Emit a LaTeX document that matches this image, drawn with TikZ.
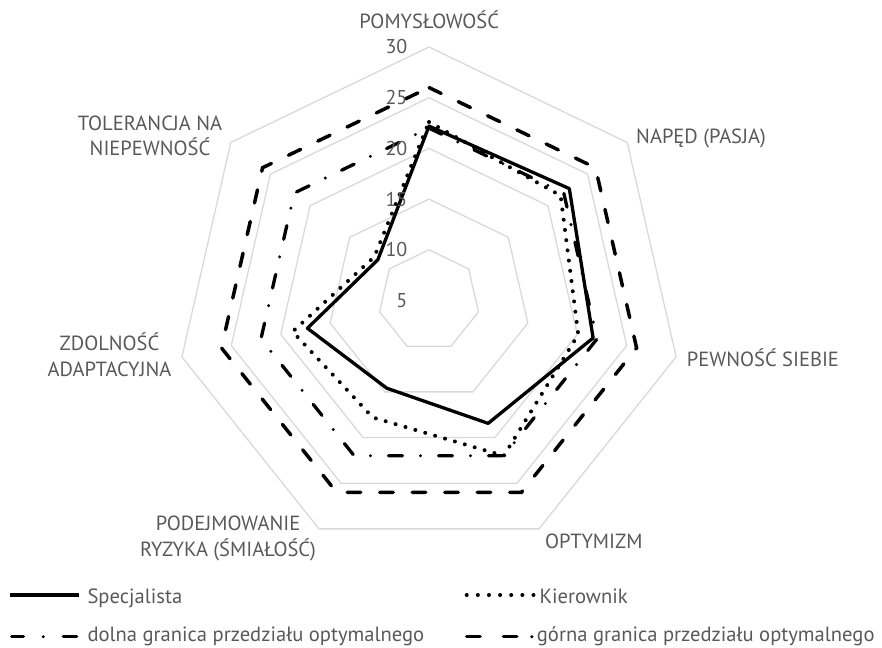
\documentclass[tikz,border=0pt]{standalone}
\usepackage{fontspec}
\setmainfont{PT Sans}
\definecolor{gridc}{HTML}{D9D9D9}
\definecolor{txt}{HTML}{595959}
\tikzset{
  gridline/.style={draw=gridc, line width=1.3pt},
  spec/.style={draw=black, line width=3.3pt, line join=round},
  kier/.style={draw=black, line width=4pt, line cap=round, dash pattern=on 0pt off 10.3pt},
  lowb/.style={draw=black, line width=3.3pt, line cap=round, dash pattern=on 14pt off 18pt on 0pt off 18pt},
  upb/.style={draw=black, line width=3.5pt, line cap=round, dash pattern=on 13.5pt off 19pt},
  axlab/.style={text=txt, inner sep=0pt, font=\fontsize{20}{22}\selectfont},
  catlab/.style={text=txt, inner sep=0pt, font=\fontsize{20.5}{22}\selectfont},
  leglab/.style={text=txt, inner sep=0pt, font=\fontsize{20.6}{22}\selectfont, anchor=base west},
}
\begin{document}
\begin{tikzpicture}[x=1pt,y=-1pt]
\useasboundingbox (0,0) rectangle (882,647);
\begin{scope}[shift={(429,300.5)}]
  % grid rings
  \foreach \v in {10,15,20,25,30}{
    \draw[gridline] (-90:{(\v-5)*10.14}) \foreach \k in {1,...,6}{ -- ({-90+360/7*\k}:{(\v-5)*10.14})} -- cycle;
  }
  % series coordinates
  \foreach \k/\v in {0/22.2,1/22.7,2/21.6,3/18.45,4/14.6,5/17.3,6/11.45}
    \coordinate (S\k) at ({-90+360/7*\k}:{(\v-5)*10.14});
  \foreach \k/\v in {0/22.6,1/21.6,2/20.1,3/22.0,4/17.8,5/18.8,6/11.9}
    \coordinate (K\k) at ({-90+360/7*\k}:{(\v-5)*10.14});
  \foreach \k/\v in {0/22,1/22,2/22,3/22,4/22,5/22,6/22}
    \coordinate (L\k) at ({-90+360/7*\k}:{(\v-5)*10.14});
  \foreach \k/\v in {0/26,1/26,2/26,3/26,4/26,5/26,6/26}
    \coordinate (U\k) at ({-90+360/7*\k}:{(\v-5)*10.14});
  \draw[spec] (S0) -- (S1) -- (S2) -- (S3) -- (S4) -- (S5) -- (S6) -- cycle;
  \draw[kier] (K0) -- (K1) -- (K2) -- (K3) -- (K4) -- (K5) -- (K6) -- cycle;
  \draw[lowb] (L0) -- (L1) -- (L2) -- (L3) -- (L4) -- (L5) -- (L6) -- cycle;
  \draw[upb] (U0) -- (U1) -- (U2) -- (U3) -- (U4) -- (U5) -- (U6) -- cycle;
\end{scope}
% value axis labels
\foreach \v in {5,10,15,20,25,30}
  \node[axlab, anchor=east] (v\v) at (407.5,{300.5-(\v-5)*10.14}) {\v};
% category labels
\node[catlab, anchor=base] (c0) at (429.2,28.3) {POMYSŁOWOŚĆ};
\node[catlab, anchor=base west] (c1) at (636,143.3) {NAPĘD (PASJA)};
\node[catlab, anchor=base west] (c2) at (686.7,366.7) {PEWNOŚĆ SIEBIE};
\node[catlab, anchor=base west] (c3) at (545,548.5) {OPTYMIZM};
\node[catlab, anchor=base] (c4a) at (228,530.7) {PODEJMOWANIE};
\node[catlab, anchor=base] (c4b) at (228,556.7) {RYZYKA (ŚMIAŁOŚĆ)};
\node[catlab, anchor=base] (c5a) at (109.5,350) {ZDOLNOŚĆ};
\node[catlab, anchor=base] (c5b) at (109.5,376.5) {ADAPTACYJNA};
\node[catlab, anchor=base] (c6a) at (150,130.5) {TOLERANCJA NA};
\node[catlab, anchor=base] (c6b) at (150,156) {NIEPEWNOŚĆ};
% legend
\coordinate (l1a) at (10,595); \coordinate (l1b) at (79.3,595);
\draw[spec, line join=miter] (l1a) -- (l1b);
\node[leglab] (t1) at (87.3,603.3) {Specjalista};
\coordinate (l2a) at (466.7,595); \coordinate (l2b) at (533.5,595);
\draw[kier, dash pattern=on 0pt off 11.13pt] (l2a) -- (l2b);
\node[leglab] (t2) at (539.3,603.3) {Kierownik};
\coordinate (l3a) at (11.7,636.7); \coordinate (l3b) at (76.7,636.7);
\draw[lowb, dash pattern=on 11.7pt off 19.9pt on 0pt off 20pt on 13.4pt off 100pt] (l3a) -- (l3b);
\node[leglab] (t3) at (87.3,641.7) {dolna granica przedziału optymalnego};
\coordinate (l4a) at (466.7,636.7); \coordinate (l4b) at (531.8,636.7);
\draw[upb, dash pattern=on 13.4pt off 23.3pt on 13.4pt off 15pt on 0pt off 100pt] (l4a) -- (l4b);
\node[leglab] (t4) at (536.7,641.7) {górna granica przedziału optymalnego};
\end{tikzpicture}
\end{document}
